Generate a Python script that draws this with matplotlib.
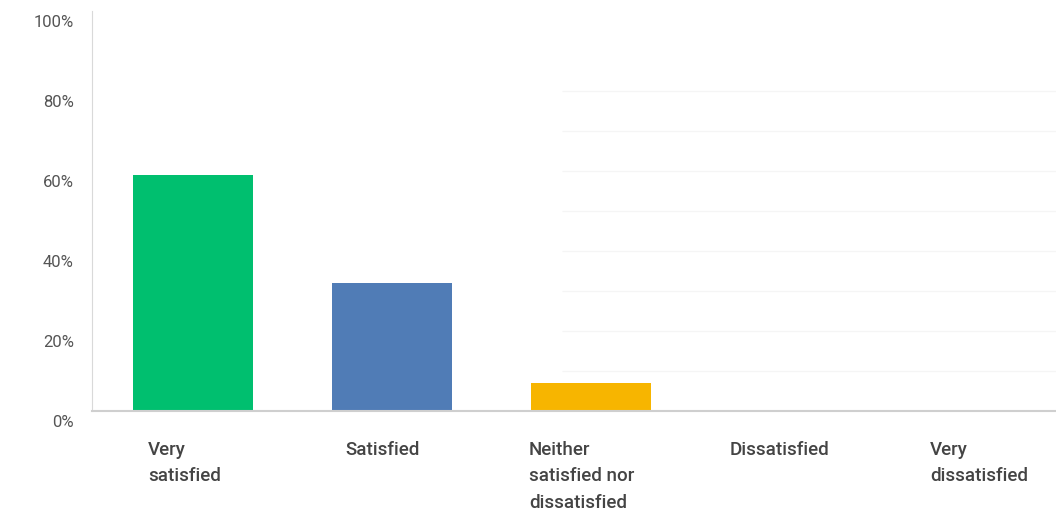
import matplotlib
matplotlib.use("Agg")
import matplotlib.pyplot as plt
from matplotlib.transforms import offset_copy

categories = ["Very\nsatisfied", "Satisfied", "Neither\nsatisfied nor\ndissatisfied",
              "Dissatisfied", "Very\ndissatisfied"]
values = [59, 32, 7, 0, 0]
colors = ["#00BF6F", "#507CB6", "#F7B500", "#6BC8CD", "#FF8B4F"]
y_ticks = [0, 20, 40, 60, 80, 100]
y_labels = ["0%", "20%", "40%", "60%", "80%", "100%"]
grid_vals = [10, 20, 30, 40, 50, 60, 70, 80]

fig = plt.figure(figsize=(10.56, 5.16), dpi=100)
ax = fig.add_axes([92 / 1056, 1 - 411 / 516, 1 - 92 / 1056, 400 / 516])

x = list(range(len(categories)))
# faint leftover gridlines on the right side
ax.hlines(grid_vals, 1.855, 4.4, color="#f5f5f5", lw=1, zorder=0)
ax.bar(x, values, width=0.6, color=colors, zorder=2)

ax.set_xlim(-0.508, 4.337)
ax.set_ylim(0, 100)

for s in ["top", "right"]:
    ax.spines[s].set_visible(False)
ax.spines["left"].set_color("#d9d9d9")
ax.spines["bottom"].set_color("#cfcfcf")
ax.spines["bottom"].set_linewidth(1.5)

ax.set_xticks([])
ax.set_yticks(y_ticks)
ax.set_yticklabels(y_labels, fontsize=12, color="#555555", family="Roboto")
ax.tick_params(axis="y", length=0, pad=13)
for lab in ax.get_yticklabels():
    lab.set_transform(offset_copy(lab.get_transform(), fig=fig, y=-10, units="dots"))

offsets = [-45, -47, -62, -60, -59]
for xi, lab, off in zip(x, categories, offsets):
    t = offset_copy(ax.get_xaxis_transform(), fig=fig, x=off, y=-30, units="dots")
    ax.text(xi, 0, lab, transform=t, ha="left", va="top", fontsize=13.5,
            color="#444444", family="Roboto", fontweight="medium",
            linespacing=1.6, clip_on=False)

fig.savefig("out.png", dpi=100)
